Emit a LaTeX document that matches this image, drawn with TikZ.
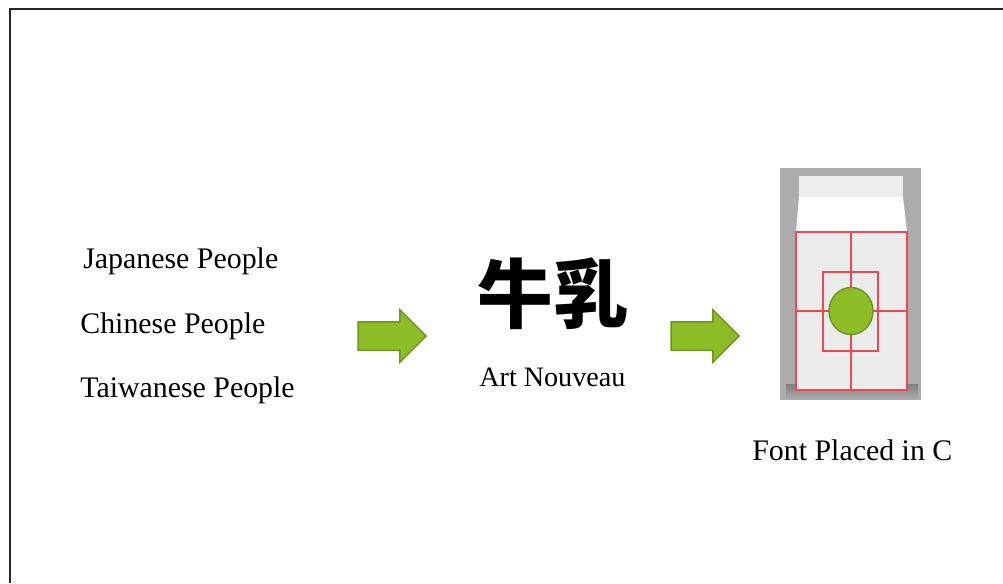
\documentclass[tikz,border=0pt]{standalone}
\usepackage{fontspec}
\setmainfont{Liberation Serif}
\newfontfamily\cjk{Noto Sans CJK SC}
\usetikzlibrary{shapes.arrows}
\definecolor{ArrowGreen}{RGB}{141,190,40}
\definecolor{ArrowEdge}{RGB}{106,150,32}
\definecolor{BoxGray}{RGB}{172,172,172}
\definecolor{GridRed}{RGB}{236,72,84}

\begin{document}
\begin{tikzpicture}[x=0.02cm, y=-0.02cm]
  \useasboundingbox (0,0) rectangle (1003,583);
  % open frame
  \draw[line width=1.3pt, black!85] (10,583) -- (10,9) -- (1003,9);

  \tikzset{label text/.style={anchor=base west, inner sep=0, font=\fontsize{17}{20}\selectfont}}
  \node[label text] (jp) at (83,268) {Japanese People};
  \node[label text] (cn) at (80,333) {Chinese People};
  \node[label text] (tw) at (80,397) {Taiwanese People};

  \tikzset{block arrow/.style={single arrow, draw=ArrowEdge, fill=ArrowGreen, line width=0.8pt,
      inner sep=0.27cm, minimum height=1.36cm, single arrow head extend=0.24cm}}
  \node[block arrow] (arrA) at (385,336) {};
  \node[block arrow] (arrB) at (698,336) {};

  \node[font=\cjk\bfseries\fontsize{43}{43}\selectfont, inner sep=0] (milk) at (553,294) {牛乳};
  \node[label text, font=\fontsize{16}{20}\selectfont] (style) at (479,386) {Art Nouveau};

  % carton
  \fill[BoxGray] (780,168) rectangle (921,400);
  \shade[top color=black!50, bottom color=BoxGray] (786,384) rectangle (918,399);
  \fill[black!7] (799,176) rectangle (903,197);
  \fill[white] (799,197) -- (903,197) -- (907,232) -- (796,232) -- cycle;
  \fill[black!8] (796,232) rectangle (907,390);
  \begin{scope}[GridRed, line width=0.8pt]
    \draw (796,232) rectangle (907,390);
    \draw (851,232) -- (851,390);
    \draw (796,311) -- (907,311);
    \draw (823,272) rectangle (878,351);
  \end{scope}
  \draw[fill=ArrowGreen, draw=ArrowEdge, line width=0.8pt] (851,311) ellipse [x radius=22, y radius=23.5];

  \node[label text] (place) at (752,460) {Font Placed in C};
\end{tikzpicture}
\end{document}
